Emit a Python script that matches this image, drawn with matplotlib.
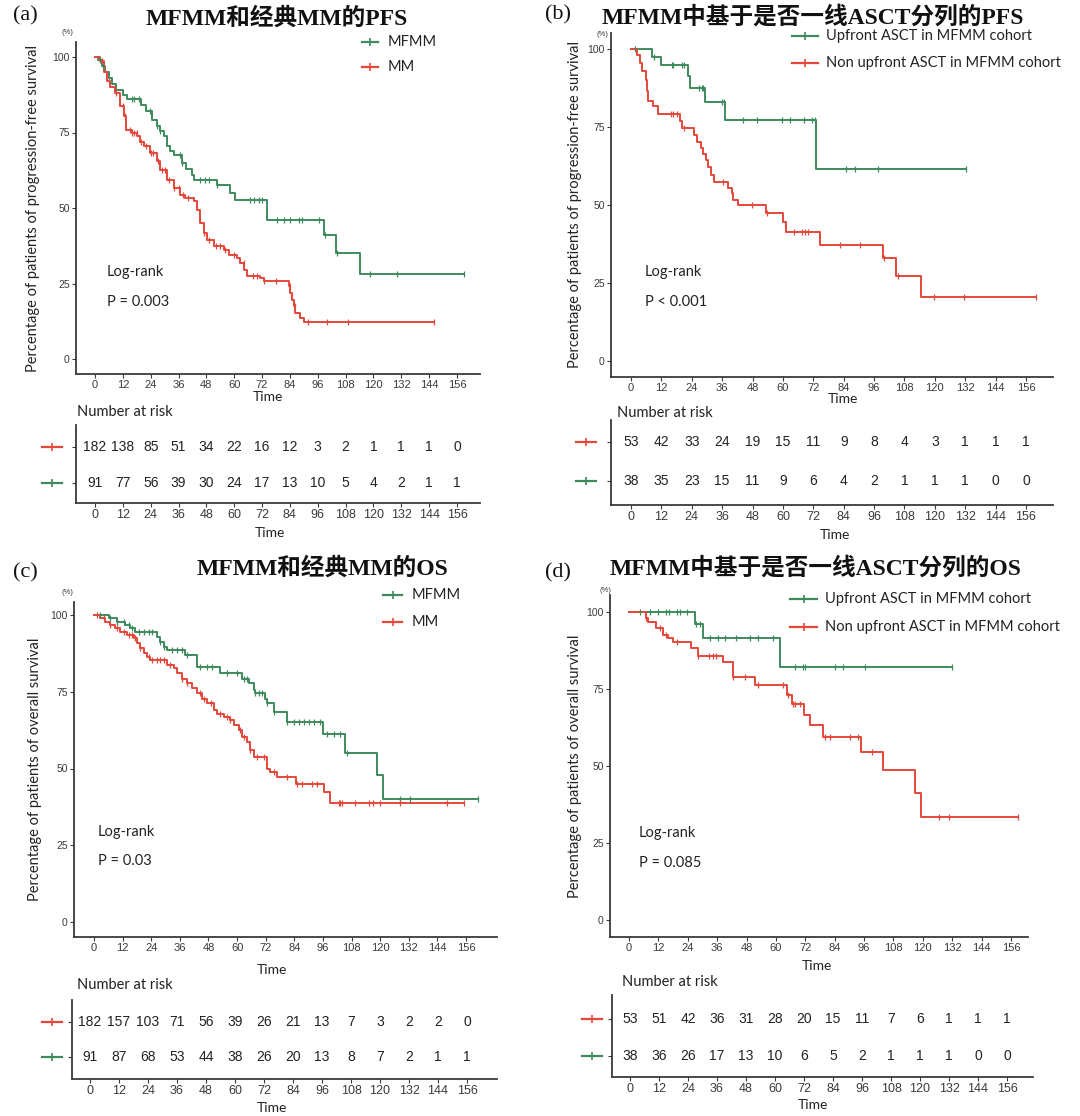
import numpy as np
import matplotlib
matplotlib.use("Agg")
import matplotlib.pyplot as plt
from matplotlib.lines import Line2D

W, H = 1080, 1116
GREEN = "#3f8a5c"
RED = "#e5483b"
DARK = "#3a3a3a"
LAB = ["Lato", "DejaVu Sans"]
NUM = ["Liberation Sans", "DejaVu Sans"]
TITLE = ["Liberation Serif", "Noto Sans CJK SC"]

# ---------------- data ----------------
time_ticks = [0, 12, 24, 36, 48, 60, 72, 84, 96, 108, 120, 132, 144, 156]
y_ticks = [0, 25, 50, 75, 100]

# (a) PFS MFMM vs MM
a_green_t = [0, 1.5, 3, 4.5, 6, 7.5, 9, 12, 14, 20, 22, 24.6, 26.7, 28, 29.6, 31, 32.5, 34, 37.5, 39, 41.8, 42.5, 52.6, 58.3, 60.5, 74, 98.6, 104, 114]
a_green_s = [100, 99, 97, 95, 93, 91, 89, 87.5, 86, 84, 82, 79, 77, 75.4, 73.7, 70.4, 68.8, 67.7, 65, 63, 61, 59.4, 57.7, 55, 52.8, 46.1, 41.2, 35.1, 28.3]
a_green_end = 159
a_green_cens = [2.0, 3.6, 15.9, 16.7, 18.8, 23.9, 26.7, 28.2, 36.8, 37.5, 45.4, 47.6, 49, 52.6, 67, 68.4, 70.5, 72, 78.4, 81.3, 84.2, 87.8, 89.2, 96.4, 99.3, 104.3, 118.7, 130.2, 159]
a_red_t = [0, 2.3, 3.7, 5.2, 6.6, 8.8, 10.9, 12.4, 13.5, 16, 18.1, 19.5, 21, 23.9, 26.7, 28.2, 31, 33.9, 36.8, 38.9, 42.5, 44, 45.4, 46.8, 48.3, 51.1, 55.5, 57.6, 61.2, 62.6, 64.1, 65.5, 71.3, 72.7, 83.5, 84.2, 84.9, 85.6, 86.4, 88.5, 89.9]
a_red_s = [100, 98.6, 95, 92, 90, 88, 83.7, 80.4, 75.9, 74.8, 73.7, 72, 70.4, 68.2, 65.5, 62.7, 59.4, 56.6, 54.4, 53.3, 52.2, 49.4, 45, 41.7, 39.5, 37.3, 36.2, 34.5, 33.4, 31.8, 29.6, 27.6, 26.8, 25.7, 24.1, 21.9, 19.6, 17.4, 15.2, 13.6, 12.1]
a_red_end = 146
a_red_cens = [3, 6, 9, 12, 13, 15, 16, 17, 18, 20, 22, 24, 25, 27, 29, 30, 32, 34, 36, 38, 40, 47, 49, 52, 54, 56, 60, 64, 68, 70, 73, 78, 84, 86, 92, 100, 109, 146]
a_risk_red = [182, 138, 85, 51, 34, 22, 16, 12, 3, 2, 1, 1, 1, 0]
a_risk_green = [91, 77, 56, 39, 30, 24, 17, 13, 10, 5, 4, 2, 1, 1]

# (b) PFS upfront ASCT vs not
b_green_t = [0, 8.2, 11.7, 22.7, 23.3, 29.2, 37.2, 73]
b_green_s = [100, 97.4, 94.8, 91.2, 87.5, 83, 77.1, 61.5]
b_green_end = 132.4
b_green_cens = [1.6, 9.2, 16.1, 16.7, 20, 20.9, 27, 28.2, 28.6, 35.8, 36.9, 44.4, 49.7, 59.6, 62.6, 68.5, 71.4, 72.7, 85, 88.5, 97.4, 132.4]
b_red_t = [0, 2.2, 3.6, 4.5, 5.9, 6.4, 6.9, 8.6, 10.8, 19.4, 20, 24.9, 26, 27.5, 28.6, 29.6, 30.6, 31.5, 32.8, 38.5, 39.8, 40.4, 42.4, 53.4, 60.2, 61.3, 74.7, 99.7, 104.7, 114.6]
b_red_s = [100, 98.2, 95.5, 93, 90.1, 86.4, 83.2, 81.6, 79.1, 76.8, 74.8, 72.5, 70.3, 68.2, 66.4, 64.5, 62.3, 59.6, 57.5, 55.4, 53.7, 51.6, 50, 47.3, 44.6, 41.4, 37.1, 32.9, 27.3, 20.6]
b_red_end = 160
b_red_cens = [15.8, 16.7, 18, 21.1, 36.5, 39.8, 47.7, 53.6, 64.2, 67.5, 68.8, 70.1, 82.6, 90.5, 100, 105.3, 119.5, 131.4, 160]
b_risk_red = [53, 42, 33, 24, 19, 15, 11, 9, 8, 4, 3, 1, 1, 1]
b_risk_green = [38, 35, 23, 15, 11, 9, 6, 4, 2, 1, 1, 1, 0, 0]

# (c) OS MFMM vs MM
c_green_t = [0, 6.2, 9.6, 13.1, 15.2, 17.3, 26.4, 27.8, 29.2, 30.6, 38.3, 43.2, 53, 62, 64.9, 67, 67.7, 71.8, 72.5, 75.3, 80.9, 96, 105.4, 118.7, 121.2]
c_green_s = [100, 98.9, 97.8, 96.7, 95.7, 94.6, 92.9, 91.3, 89.7, 88.6, 87, 83.2, 81, 79.3, 77.7, 75.5, 74.5, 72.8, 71.2, 68.5, 65.2, 61.4, 54.9, 47.8, 40.2]
c_green_end = 160.9
c_green_cens = [2.7, 6.8, 9.6, 12.4, 14.5, 15.9, 18.7, 20.8, 22.9, 24.3, 27.8, 29.2, 32.7, 34.8, 36.9, 39, 44.6, 47.4, 49.5, 55.8, 60, 62.8, 64.2, 67.7, 69.1, 70.5, 72.5, 75.3, 80.9, 83.7, 85.8, 87.9, 90, 92.1, 94.9, 97.7, 100.5, 103, 106.1, 128.5, 132.7, 160.9]
c_red_t = [0, 2.7, 4.8, 6.8, 8.9, 11, 13.8, 16.6, 18, 19.4, 20.8, 22.2, 23.6, 30.6, 33.4, 34.8, 36.9, 39, 41.1, 43.2, 45.3, 47.4, 50.2, 51.6, 54.4, 57.2, 58.6, 60.7, 62.1, 64.2, 65.6, 67, 72.5, 74, 76.7, 84.8, 96.3, 99.1]
c_red_s = [100, 98.9, 97.8, 96.7, 95.7, 94.6, 93.5, 92.4, 90.8, 89.1, 87.5, 86.4, 85.3, 83.7, 82.6, 81, 79.3, 77.7, 76.1, 74.5, 72.8, 71.2, 69, 67.9, 66.8, 65.8, 64.1, 62.5, 60.3, 58.7, 56, 53.8, 50, 48.9, 47.3, 45.1, 42.4, 38.6]
c_red_end = 155
c_red_cens = [1.3, 4.1, 6.8, 9.6, 12.4, 14.5, 15.9, 17.3, 19.4, 22.9, 24.3, 26.4, 27.8, 29.2, 32, 36.9, 39, 44.6, 46, 48.9, 53, 55.8, 57.2, 61.4, 62.8, 65.6, 68.4, 71.1, 75.3, 80.9, 85.1, 87.2, 91.4, 93.5, 102.6, 103.3, 104, 109.6, 115.2, 117, 120.1, 128.5, 148, 155]
c_risk_red = [182, 157, 103, 71, 56, 39, 26, 21, 13, 7, 3, 2, 2, 0]
c_risk_green = [91, 87, 68, 53, 44, 38, 26, 20, 13, 8, 7, 2, 1, 1]

# (d) OS upfront ASCT vs not
d_green_t = [0, 26.9, 30.3, 61.6]
d_green_s = [100, 96.1, 91.4, 82.3]
d_green_end = 131.9
d_green_cens = [4.4, 8.5, 11.9, 15.3, 16.4, 19.4, 20.7, 23.5, 27.5, 28.9, 33, 36.4, 39.1, 43.9, 49.4, 52.8, 58.9, 67.8, 71.2, 71.9, 84.1, 87.5, 96.4, 131.9]
d_red_t = [0, 6.8, 7.8, 11.2, 13.9, 16, 18, 25.5, 28.2, 38.5, 42.5, 51.4, 64.4, 66.4, 71.6, 73.9, 79.4, 94.6, 103.9, 116.9, 119.3]
d_red_s = [100, 97.9, 96.9, 94.7, 92.5, 91.5, 90.4, 88.2, 85.7, 83.9, 78.8, 76.3, 73.1, 70.1, 66.6, 63.3, 59.5, 54.7, 48.7, 41.3, 33.3]
d_red_end = 158.7
d_red_cens = [7.1, 12.5, 15.3, 19.4, 28.2, 32.7, 34.4, 35.7, 42.5, 47.3, 52.8, 63, 65, 67.1, 67.8, 69.8, 80, 82.1, 90.3, 93.7, 99.1, 126.4, 130.5, 158.7]
d_risk_red = [53, 51, 42, 36, 31, 28, 20, 15, 11, 7, 6, 1, 1, 1]
d_risk_green = [38, 36, 26, 17, 13, 10, 6, 5, 2, 1, 1, 1, 0, 0]

# ---------------- helpers ----------------
fig = plt.figure(figsize=(W / 100, H / 100), dpi=100)
fig.patch.set_facecolor("white")


def fx(px):
    return px / W


def fy(py):
    return 1 - py / H


def axes_px(left, top, right, bottom):
    return fig.add_axes([fx(left), fy(bottom), (right - left) / W, (bottom - top) / H])


def style_axes(ax):
    for s in ["top", "right"]:
        ax.spines[s].set_visible(False)
    for s in ["left", "bottom"]:
        ax.spines[s].set_color(DARK)
        ax.spines[s].set_linewidth(1.3)
    ax.tick_params(colors=DARK, width=0.8, length=3, pad=1.5)


def km_curve(ax, t, s, end, cens, color):
    tt = list(t) + [end]
    ss = list(s) + [s[-1]]
    ax.step(tt, ss, where="post", color=color, lw=1.4, zorder=3)
    idx = np.searchsorted(np.array(t), np.array(cens), side="right") - 1
    cy = np.array(s)[idx]
    ax.plot(cens, cy, ls="none", marker="|", ms=5, mew=0.9, color=color, zorder=4)


def fig_legend_item(x1, x2, y, color, label, tx, fs=10.5):
    fig.add_artist(Line2D([fx(x1), fx(x2)], [fy(y), fy(y)], color=color, lw=1.6,
                          transform=fig.transFigure))
    fig.add_artist(Line2D([fx((x1 + x2) / 2)], [fy(y)], color=color, marker="|", ms=6,
                          mew=1.2, transform=fig.transFigure))
    if label:
        fig.text(fx(tx), fy(y), label, fontsize=fs, family=LAB, color="#222222",
                 ha="left", va="center")


def km_panel(p, gt, gs, gend, gcens, rt, rs, rend, rcens, ylabel):
    ax = axes_px(p["left"], p["top"], p["right"], p["bottom"])
    sx = (p["x156"] - p["x0"]) / 156.0
    sy = (p["y0"] - p["y100"]) / 100.0
    ax.set_xlim((p["left"] - p["x0"]) / sx, (p["right"] - p["x0"]) / sx)
    ax.set_ylim(-(p["bottom"] - p["y0"]) / sy, 100 + (p["y100"] - p["top"]) / sy)
    style_axes(ax)
    km_curve(ax, gt, gs, gend, gcens, GREEN)
    km_curve(ax, rt, rs, rend, rcens, RED)
    ax.set_xticks(time_ticks)
    ax.set_xticklabels([str(v) for v in time_ticks], fontsize=8, family=NUM, color=DARK)
    ax.set_yticks(y_ticks)
    ax.set_yticklabels([str(v) for v in y_ticks], fontsize=7.5, family=NUM, color=DARK)
    ax.set_ylabel(ylabel, fontsize=10.5, family=LAB, color="#222222")
    ax.yaxis.label.set_va("center")
    ax.yaxis.set_label_coords((p["ylab_x"] - p["left"]) / (p["right"] - p["left"]), 0.5)
    ax.set_xlabel("Time", fontsize=10, family=LAB, color="#222222")
    ax.xaxis.set_label_coords((p["time_x"] - p["left"]) / (p["right"] - p["left"]),
                              -(p["time_y"] - p["bottom"]) / (p["bottom"] - p["top"]))
    ax.xaxis.label.set_va("center")
    return ax


def risk_panel(p, red_vals, green_vals):
    ax = axes_px(p["left"], p["top"], p["right"], p["bottom"])
    sx = (p["x156"] - p["x0"]) / 156.0
    su = p["yg"] - p["yr"]
    ax.set_xlim((p["left"] - p["x0"]) / sx, (p["right"] - p["x0"]) / sx)
    ax.set_ylim(-(p["bottom"] - p["yg"]) / su, 1 + (p["yr"] - p["top"]) / su)
    style_axes(ax)
    for t, v in zip(time_ticks, red_vals):
        ax.text(t, 1, str(v), ha="center", va="center", fontsize=10, family=NUM, color="#222222")
    for t, v in zip(time_ticks, green_vals):
        ax.text(t, 0, str(v), ha="center", va="center", fontsize=10, family=NUM, color="#222222")
    ax.set_xticks(time_ticks)
    ax.set_xticklabels([str(v) for v in time_ticks], fontsize=9, family=NUM, color=DARK)
    ax.set_yticks([0, 1])
    ax.set_yticklabels(["", ""])
    ax.set_xlabel("Time", fontsize=10, family=LAB, color="#222222")
    ax.xaxis.set_label_coords((p["time_x"] - p["left"]) / (p["right"] - p["left"]),
                              -(p["time_y"] - p["bottom"]) / (p["bottom"] - p["top"]))
    ax.xaxis.label.set_va("center")
    fig.text(fx(p["nar_x"]), fy(p["nar_y"]), "Number at risk", fontsize=10.5, family=LAB,
             color="#222222", ha="left", va="center")
    mx = p["mk_x"]
    fig_legend_item(mx - 10, mx + 10, p["yr"], RED, None, 0)
    fig_legend_item(mx - 10, mx + 10, p["yg"], GREEN, None, 0)
    return ax


ylab_pfs = "Percentage of patients of progression-free survival"
ylab_os = "Percentage of patients of overall survival"

# ---------- panel (a) ----------
pa = dict(left=76, top=42, right=480, bottom=374, x0=95, x156=457, y100=57, y0=359,
          ylab_x=33, time_x=268, time_y=397)
km_panel(pa, a_green_t, a_green_s, a_green_end, a_green_cens,
         a_red_t, a_red_s, a_red_end, a_red_cens, ylab_pfs)
ra = dict(left=76, top=425, right=480, bottom=503, x0=95, x156=457, yr=447, yg=483,
          time_x=270, time_y=533, nar_x=77, nar_y=412, mk_x=52)
risk_panel(ra, a_risk_red, a_risk_green)

# ---------- panel (b) ----------
pb = dict(left=611, top=33, right=1053, bottom=377, x0=631, x156=1026, y100=49, y0=361,
          ylab_x=575, time_x=843, time_y=399)
km_panel(pb, b_green_t, b_green_s, b_green_end, b_green_cens,
         b_red_t, b_red_s, b_red_end, b_red_cens, ylab_pfs)
rb = dict(left=611, top=420, right=1053, bottom=505, x0=631, x156=1026, yr=442, yg=481,
          time_x=835, time_y=535, nar_x=617, nar_y=413, mk_x=586)
risk_panel(rb, b_risk_red, b_risk_green)

# ---------- panel (c) ----------
pc = dict(left=74, top=602, right=497, bottom=937, x0=94, x156=466, y100=615, y0=922,
          ylab_x=35, time_x=272, time_y=970)
km_panel(pc, c_green_t, c_green_s, c_green_end, c_green_cens,
         c_red_t, c_red_s, c_red_end, c_red_cens, ylab_os)
rc = dict(left=72, top=1000, right=497, bottom=1079, x0=90, x156=467, yr=1022, yg=1057,
          time_x=272, time_y=1108, nar_x=77, nar_y=985, mk_x=52)
risk_panel(rc, c_risk_red, c_risk_green)

# ---------- panel (d) ----------
pd_ = dict(left=610, top=595, right=1028, bottom=937, x0=629, x156=1011, y100=612, y0=920,
           ylab_x=575, time_x=817, time_y=966)
km_panel(pd_, d_green_t, d_green_s, d_green_end, d_green_cens,
         d_red_t, d_red_s, d_red_end, d_red_cens, ylab_os)
rd = dict(left=612, top=995, right=1033, bottom=1077, x0=630, x156=1007, yr=1019, yg=1056,
          time_x=813, time_y=1105, nar_x=622, nar_y=982, mk_x=592)
risk_panel(rd, d_risk_red, d_risk_green)


# ---------- titles, panel letters ----------
def title(x, y, s, size=17):
    fig.text(fx(x), fy(y), s, fontsize=size, family=TITLE, color="#111111",
             ha="center", va="center", weight="bold")


title(277, 18, "MFMM和经典MM的PFS")
title(813, 17, "MFMM中基于是否一线ASCT分列的PFS")
title(322, 568, "MFMM和经典MM的OS")
title(816, 568, "MFMM中基于是否一线ASCT分列的OS")
for x, y, s in [(25, 16, "(a)"), (558, 15, "(b)"), (25, 573, "(c)"), (558, 573, "(d)")]:
    fig.text(fx(x), fy(y), s, fontsize=16, family=TITLE, color="#111111",
             ha="center", va="center")

# ---------- (%) labels ----------
for x, y in [(67, 33), (602, 34), (67, 593), (605, 590)]:
    fig.text(fx(x), fy(y), "(%)", fontsize=5.5, family=NUM, color=DARK, ha="center", va="center")

# ---------- legends ----------
fig_legend_item(362, 378, 42, GREEN, "MFMM", 388)
fig_legend_item(362, 378, 67, RED, "MM", 388)
fig_legend_item(792, 818, 36, GREEN, "Upfront ASCT in MFMM cohort", 826)
fig_legend_item(792, 818, 63, RED, "Non upfront ASCT in MFMM cohort", 826)
fig_legend_item(383, 402, 595, GREEN, "MFMM", 412)
fig_legend_item(383, 402, 622, RED, "MM", 412)
fig_legend_item(790, 817, 599, GREEN, "Upfront ASCT in MFMM cohort", 825)
fig_legend_item(790, 817, 627, RED, "Non upfront ASCT in MFMM cohort", 825)

# ---------- log-rank annotations ----------
for x, y1, y2, ptxt in [(107, 272, 302, "P = 0.003"), (645, 272, 302, "P < 0.001"),
                        (98, 832, 861, "P = 0.03"), (639, 833, 863, "P = 0.085")]:
    fig.text(fx(x), fy(y1), "Log-rank", fontsize=10.5, family=LAB, color="#222222",
             ha="left", va="center")
    fig.text(fx(x), fy(y2), ptxt, fontsize=10.5, family=LAB, color="#222222",
             ha="left", va="center")

fig.savefig("out.png", dpi=100, facecolor="white")
